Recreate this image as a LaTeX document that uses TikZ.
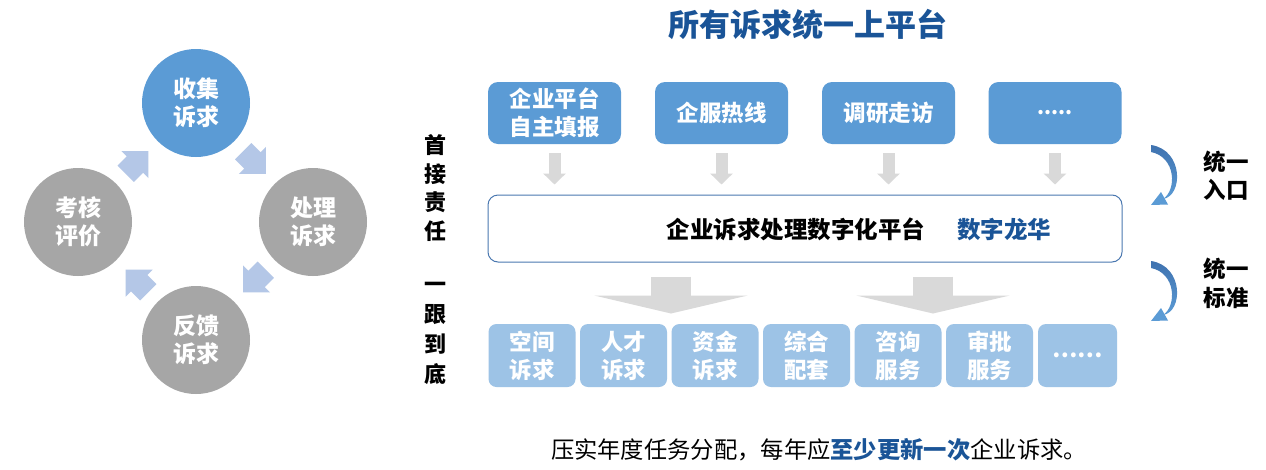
\documentclass[tikz,border=0pt]{standalone}
\usepackage{fontspec}
\setmainfont{Noto Sans CJK SC}
\usetikzlibrary{calc,arrows.meta}
\definecolor{cblue}{HTML}{5B9BD5}
\definecolor{cgray}{HTML}{A6A6A6}
\definecolor{carrow}{HTML}{B4C7E7}
\definecolor{lblue}{HTML}{9DC3E6}
\definecolor{garrow}{HTML}{D9D9D9}
\definecolor{dblue}{HTML}{1A5497}
\definecolor{pborder}{HTML}{4A78B0}
\definecolor{arcdark}{HTML}{3F72AF}
\definecolor{arclight}{HTML}{5B9BD5}
\begin{document}
\begin{tikzpicture}[x=1pt,y=-1pt,
 circ/.style={circle, minimum size=108pt, inner sep=0pt, text=white, font=\fontsize{23}{28}\selectfont\bfseries, align=center},
 topbox/.style={rounded corners=10pt, fill=cblue, minimum width=133pt, minimum height=62pt, inner sep=0pt, text=white, font=\fontsize{22.5}{28}\selectfont\bfseries, align=center},
 botbox/.style={rounded corners=8pt, fill=lblue, minimum width=87pt, minimum height=63pt, inner sep=0pt, text=white, font=\fontsize{22.5}{28}\selectfont\bfseries, align=center},
 smallarr/.style={draw=garrow, line width=12pt, -{Triangle[width=22pt,length=11pt]}},
 bigarr/.style={draw=garrow, line width=40pt, -{Triangle[width=153pt,length=18pt]}},
 sidetext/.style={align=center, inner sep=0pt},
 blockarrow/.pic={\fill[carrow] (-16,-11.5) -- (-3,-11.5) -- (-3,-19) -- (16,0) -- (-3,19) -- (-3,11.5) -- (-16,11.5) -- cycle;}
]
\useasboundingbox[fill=white] (0,0) rectangle (1266,469);

% cycle on the left
\node[circ, fill=cblue] (c1) at (196,103) {收集\\诉求};
\node[circ, fill=cgray] (c2) at (313,222) {处理\\诉求};
\node[circ, fill=cgray] (c4) at (196,340) {反馈\\诉求};
\node[circ, fill=cgray] (c3) at (78,222) {考核\\评价};
\pic[rotate=-45] at ($(c1)!0.5!(c2)$) {blockarrow};
\pic[rotate=-135] at ($(c2)!0.5!(c4)$) {blockarrow};
\pic[rotate=135] at ($(c4)!0.5!(c3)$) {blockarrow};
\pic[rotate=45] at ($(c3)!0.5!(c1)$) {blockarrow};

% title
\node[font=\fontsize{31}{36}\selectfont\bfseries, text=dblue] (title) at (808,25) {所有诉求统一上平台};

% top boxes
\node[topbox] (b1) at (554.5,113) {企业平台\\自主填报};
\node[topbox] (b2) at (721.5,113) {企服热线};
\node[topbox] (b3) at (888.5,113) {调研走访};
\node[topbox] (b4) at (1055,113) {\raisebox{-4pt}{\fontsize{20}{24}\selectfont .....}};

% platform
\node[draw=pborder, line width=1pt, rounded corners=10pt, minimum width=634pt, minimum height=67pt, inner sep=0pt] (plat) at (805,228.5) {};
\node[font=\fontsize{23.5}{28}\selectfont\bfseries, inner sep=0pt] (ptxt) at (859,229) {企业诉求处理数字化平台\hspace{32pt}\textcolor{dblue}{数字龙华}};

\foreach \b in {b1,b2,b3,b4}
  \draw[smallarr] ([yshift=-9pt]\b.south) -- ($(\b.south |- plat.north)+(0,-10)$);

\draw[bigarr] ($(plat.south)+(-134,14)$) -- ++(0,37);
\draw[bigarr] ($(plat.south)+(128,14)$) -- ++(0,37);

% bottom boxes
\node[botbox] (d1) at (532,355.5) {空间\\诉求};
\node[botbox] (d2) at (623.5,355.5) {人才\\诉求};
\node[botbox] (d3) at (715,355.5) {资金\\诉求};
\node[botbox] (d4) at (806.5,355.5) {综合\\配套};
\node[botbox] (d5) at (898,355.5) {咨询\\服务};
\node[botbox] (d6) at (989.5,355.5) {审批\\服务};
\node[botbox, minimum width=79pt] (d7) at (1077.5,355.5) {……};

% left vertical labels
\node[sidetext, font=\fontsize{22}{28.5}\selectfont\bfseries] (lt1) at (435,188) {首\\接\\责\\任};
\node[sidetext, font=\fontsize{22}{30}\selectfont\bfseries] (lt2) at (435,333) {一\\跟\\到\\底};

% right labels
\node[sidetext, font=\fontsize{22.5}{28}\selectfont\bfseries] (rt1) at (1226,176) {统一\\入口};
\node[sidetext, font=\fontsize{22.5}{29}\selectfont\bfseries] (rt2) at (1226,283) {统一\\标准};

% curved arrows
\foreach \dy in {0,116}{
  \begin{scope}[shift={(0,\dy)}]
    \shade[top color=arcdark, bottom color=arclight] (1151,145) .. controls (1184,150) and (1183,196) .. (1163,199) .. controls (1177,190) and (1176,157) .. (1151,152) -- cycle;
    \fill[arclight] (1151,205) -- (1161,192) -- (1168,204.5) -- cycle;
  \end{scope}
}

% bottom note
\node[font=\fontsize{23.3}{28}\selectfont, inner sep=0pt] (note) at (819,450) {压实年度任务分配，每年应\textbf{\textcolor{dblue}{至少更新一次}}企业诉求。};
\end{tikzpicture}
\end{document}
